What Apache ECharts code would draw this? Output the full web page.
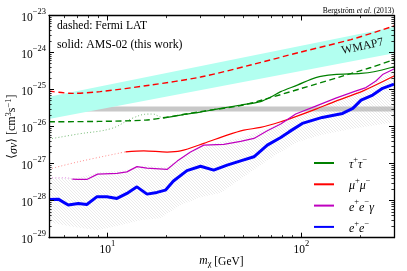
<!DOCTYPE html>
<html><head><meta charset="utf-8">
<script src="https://cdn.jsdelivr.net/npm/echarts@6/dist/echarts.min.js"></script>
<style>html,body{margin:0;padding:0;background:#fff}#c{width:407px;height:271px}</style>
</head><body><div id="c"></div>
<script>
const F = "'Liberation Serif','DejaVu Serif',serif";

// axis range (raw units) and tick positions
const xRange = [5, 300];
const yRange = [1e-29, 1e-23];
const xMajorTicks = [10, 100];
const xMinorTicks = [5, 6, 7, 8, 9, 20, 30, 40, 50, 60, 70, 80, 90, 200, 300];
const yMajorTicks = [1e-29, 1e-28, 1e-27, 1e-26, 1e-25, 1e-24, 1e-23];
const yMinorTicks = [];
for (let e = -29; e < -23; e++) for (let k = 2; k <= 9; k++) yMinorTicks.push(k * Math.pow(10, e));

// WMAP7 band and thermal relic band
const wmapUpper = [[5, 6.4e-26], [300, 4.9e-24]];
const wmapLower = [[5, 1.6e-26], [300, 9.5e-25]];
const relicUpper = [[5, 3.5e-26], [300, 3.5e-26]];
const relicLower = [[5, 2.56e-26], [300, 2.56e-26]];

// hatched region
const hatchUpper = [[5, 4.05e-28], [6.81, 4.05e-28], [9.17, 5.9e-28], [12.4, 6.67e-28], [15.66, 9.1e-28], [19.9, 8.0e-28],
  [26.8, 2.05e-27], [34, 3.37e-27], [48.6, 4.89e-27], [61.6, 7.55e-27], [78.2, 1.32e-26], [99.2, 2.18e-26],
  [141.8, 4.6e-26], [202.6, 9.7e-26], [272.8, 2.47e-25], [300, 3.37e-25]];
const hatchLower = [[5, 2.62e-29], [6.41, 2.05e-29], [8.85, 1.6e-29], [11.63, 2.18e-29], [14.76, 2.97e-29], [18.7, 3.37e-29],
  [23.76, 7.55e-29], [30.2, 1.24e-28], [38.25, 1.6e-28], [54.7, 5.9e-28], [73.6, 1.7e-27], [95.7, 3.81e-27],
  [125.9, 5.9e-27], [179.9, 8.55e-27], [300, 1.32e-26]];

// Fermi LAT (dashed)
const fermiMuMu = [[5, 9.1e-26], [6.57, 7.9e-26], [9.17, 8.8e-26], [16.6, 1.32e-25], [30.2, 2.18e-25], [54.7, 4.6e-25],
  [99.2, 1.03e-24], [179.9, 2.24e-24], [300, 5.2e-24]];
const fermiTauTau = [[5, 1.35e-26], [9, 1.38e-26], [15.7, 1.5e-26], [19.9, 1.77e-26], [30.2, 2.54e-26], [48.6, 3.7e-26],
  [63.9, 5.37e-26], [99.2, 1.06e-25], [159.7, 2.24e-25], [228, 3.94e-25], [300, 6.47e-25]];

// AMS-02 (solid, dotted at low mass)
const tauDotted = [[5, 4.6e-27], [7.06, 6.3e-27], [10.5, 8.9e-27], [13.4, 1.67e-26], [16.2, 2.18e-26], [17.2, 2.18e-26], [18.3, 1.92e-26], [19.4, 1.7e-26]];
const tauSolid = [[19.4, 1.7e-26], [23.8, 2.05e-26], [30.2, 2.47e-26], [38.3, 3.1e-26], [48.6, 3.81e-26], [61.6, 4.74e-26],
  [69.4, 6.27e-26], [78.2, 8.8e-26], [95.3, 1.32e-25], [118.6, 2.11e-25], [146.9, 2.54e-25], [202.6, 2.74e-25],
  [236.5, 3.03e-25], [300, 4.13e-25]];
const muDotted = [[5, 7.1e-28], [7.08, 1.12e-27], [12.4, 2.08e-27]];
const muSolid = [[12.4, 2.08e-27], [15.4, 2.22e-27], [20.3, 2.05e-27], [23.8, 2.2e-27], [31.4, 3.52e-27], [41.4, 5.89e-27],
  [50.5, 8.04e-27], [61.6, 9.5e-27], [78.2, 1.35e-26], [93.4, 1.86e-26], [118.6, 2.97e-26], [150.4, 4.89e-26],
  [206.7, 9.1e-26], [300, 2.32e-25]];
const eegDotted = [[5, 4.13e-28], [6.17, 4.13e-28], [6.6, 3.8e-28]];
const eegSolid = [[6.6, 3.8e-28], [7.0, 3.74e-28], [7.83, 3.74e-28], [8.9, 5.2e-28], [11.2, 5.43e-28], [12.6, 6.0e-28],
  [14.2, 8.3e-28], [16.0, 7.55e-28], [20.3, 6.97e-28], [22.9, 1.17e-27], [26.8, 2.05e-27], [31.4, 3.16e-27],
  [39.8, 3.3e-27], [48.6, 3.98e-27], [56.9, 4.8e-27], [66.7, 7.7e-27], [78.2, 1.17e-26], [93.4, 2.18e-26],
  [118.6, 3.58e-26], [150.4, 5.89e-26], [189.8, 9.1e-26], [215, 1.13e-25], [242, 1.7e-25], [262, 2.54e-25], [300, 3.58e-25]];
const eeSolid = [[5.0, 1.08e-28], [5.58, 1.10e-28], [6.28, 7.6e-29], [7.08, 8.4e-29], [7.83, 7.9e-29], [8.81, 1.27e-28],
  [9.93, 1.27e-28], [11.2, 1.15e-28], [12.6, 1.57e-28], [14.2, 2.36e-28], [16.0, 1.50e-28], [18.0, 1.67e-28],
  [19.9, 1.92e-28], [21.9, 3.4e-28], [25.7, 6.5e-28], [30.2, 8.5e-28], [35.3, 6.7e-28], [41.4, 9.1e-28],
  [48.6, 1.19e-27], [56.9, 1.53e-27], [66.7, 3.16e-27], [78.2, 5.1e-27], [86.3, 7.2e-27], [101, 1.22e-26],
  [128, 1.77e-26], [163, 2.27e-26], [184, 3.1e-26], [203, 5.2e-26], [233, 7.1e-26], [262, 1.08e-25], [300, 1.41e-25]];

const legendNames = ['tau', 'mu', 'eegamma', 'ee'];
const legendLabels = {
  tau: '{i|τ}{s|+}{i|τ}{s|−}',
  mu: '{i|μ}{s|+}{i|μ}{s|−}',
  eegamma: '{i|e}{s|+}{i|e}{s|−}{i|γ}',
  ee: '{i|e}{s|+}{i|e}{s|−}'
};

const GREEN = '#008000', RED = '#ff0000', MAG = '#bf00bf', BLUE = '#0000ff';

// log-log mapping: axes are value axes in decades
const lg = v => Math.log10(v);
const LP = p => [lg(p[0]), lg(p[1])];

// hatch pattern
const hc = document.createElement('canvas');
hc.width = 3; hc.height = 3;
const hx = hc.getContext('2d');
hx.strokeStyle = 'rgba(175,175,175,0.42)';
hx.lineWidth = 0.6;
[[0, 0, 3, 3], [-3, 0, 0, 3], [0, -3, 3, 0]].forEach(l => { hx.beginPath(); hx.moveTo(l[0] - 1, l[1] - 1); hx.lineTo(l[2] + 1, l[3] + 1); hx.stroke(); });

function band(upper, lower, style, z) {
  const up = upper.map(LP), lo = lower.map(LP);
  return {
    type: 'custom', coordinateSystem: 'cartesian2d', xAxisIndex: 0, yAxisIndex: 0, z: z, silent: true, clip: true,
    data: up.concat(lo),
    renderItem(params, api) {
      if (params.dataIndex !== 0) return null;
      const pts = up.map(p => api.coord(p)).concat(lo.slice().reverse().map(p => api.coord(p)));
      return { type: 'polygon', shape: { points: pts }, style: style };
    }
  };
}
function line(name, data, color, width, type, opacity, smooth) {
  return {
    type: 'line', name: name, data: data.map(LP), xAxisIndex: 0, yAxisIndex: 0, symbol: 'none', showSymbol: false,
    smooth: smooth || false, silent: true, z: 3,
    lineStyle: { color: color, width: width, type: type || 'solid', opacity: opacity == null ? 1 : opacity },
    itemStyle: { color: color }
  };
}

const supRich = {
  b: { fontFamily: F, fontSize: 11.5, lineHeight: 16, verticalAlign: 'bottom', color: '#000' },
  s: { fontFamily: F, fontSize: 8.5, lineHeight: 9, verticalAlign: 'top', color: '#000' }
};
function powLabel(v) {
  const e = Math.round(v);
  return '{b|10}{s|' + (e < 0 ? '−' + (-e) : e) + '}';
}
function ax(range, pos, ticks, major, showLine) {
  return {
    type: 'value', min: lg(range[0]), max: lg(range[1]), position: pos, z: 10,
    axisLine: { show: showLine, onZero: false, lineStyle: { color: '#000', width: 1.3 } },
    axisTick: { show: true, inside: true, length: major ? 5 : 2.6, customValues: ticks.map(lg), lineStyle: { color: '#000', width: major ? 1 : 0.8 } },
    axisLabel: { show: false }, splitLine: { show: false }, minorTick: { show: false }
  };
}

const xAxes = [ax(xRange, 'bottom', xMajorTicks, true, true), ax(xRange, 'bottom', xMinorTicks, false, false),
  ax(xRange, 'top', xMajorTicks, true, true), ax(xRange, 'top', xMinorTicks, false, false)];
xAxes[0].axisLabel = { show: true, customValues: xMajorTicks.map(lg), formatter: powLabel, rich: supRich, margin: 2 };
xAxes[0].name = '{i|m}{sub|χ} [GeV]';
xAxes[0].nameLocation = 'middle';
xAxes[0].nameGap = 17;
xAxes[0].nameMoveOverlap = false;
xAxes[0].nameTextStyle = {
  fontFamily: F, fontSize: 11.5, color: '#000',
  rich: {
    i: { fontFamily: F, fontSize: 11.5, fontStyle: 'italic', lineHeight: 14, verticalAlign: 'top' },
    sub: { fontFamily: F, fontSize: 8.5, lineHeight: 14, verticalAlign: 'bottom' }
  }
};
const yAxes = [ax(yRange, 'left', yMajorTicks, true, true), ax(yRange, 'left', yMinorTicks, false, false),
  ax(yRange, 'right', yMajorTicks, true, true), ax(yRange, 'right', yMinorTicks, false, false)];
yAxes[0].axisLabel = { show: true, customValues: yMajorTicks.map(lg), formatter: powLabel, rich: supRich, margin: 3 };
yAxes[0].name = '⟨{i|σv}⟩ [cm{s|3}s{s|−1}]';
yAxes[0].nameLocation = 'middle';
yAxes[0].nameRotate = 90;
yAxes[0].nameGap = 29;
yAxes[0].nameMoveOverlap = false;
yAxes[0].nameTextStyle = {
  fontFamily: F, fontSize: 12, color: '#000', lineHeight: 16, verticalAlign: 'bottom',
  rich: {
    i: { fontFamily: F, fontSize: 12, fontStyle: 'italic', lineHeight: 16, verticalAlign: 'bottom' },
    s: { fontFamily: F, fontSize: 8.5, lineHeight: 9, verticalAlign: 'top' }
  }
};

const option = {
  animation: false,
  backgroundColor: '#fff',
  grid: { left: 49, right: 13, top: 15.5, bottom: 33.3, containLabel: false, outerBoundsMode: 'none' },
  xAxis: xAxes,
  yAxis: yAxes,
  legend: {
    data: legendNames, orient: 'vertical', left: 313, top: 155, padding: 0,
    itemWidth: 20, itemHeight: 14, itemGap: 5.3, selectedMode: false,
    itemStyle: { color: 'rgba(0,0,0,0)', borderColor: 'rgba(0,0,0,0)', borderWidth: 0, opacity: 0 },
    formatter: n => legendLabels[n],
    textStyle: {
      color: '#000', padding: [0, 0, 0, 10],
      rich: {
        i: { fontFamily: F, fontSize: 12, fontStyle: 'italic', lineHeight: 16, verticalAlign: 'bottom', color: '#000' },
        s: { fontFamily: F, fontSize: 8.5, lineHeight: 9, verticalAlign: 'top', color: '#000' }
      }
    }
  },
  graphic: [
    { type: 'text', x: 57, y: 26.3, z: 20, style: { text: 'dashed: Fermi LAT', fontFamily: F, fontSize: 11.6, fill: '#000', textAlign: 'left', textVerticalAlign: 'middle', align: 'left', verticalAlign: 'middle' } },
    { type: 'text', x: 57, y: 44.8, z: 20, style: { text: 'solid: AMS-02 (this work)', fontFamily: F, fontSize: 11.8, fill: '#000', textAlign: 'left', textVerticalAlign: 'middle', align: 'left', verticalAlign: 'middle' } },
    { type: 'text', x: 394, y: 11, z: 20, style: { text: 'Bergström {i|et al.} (2013)', fontFamily: F, fontSize: 7.6, fill: '#000', textAlign: 'right', textVerticalAlign: 'middle', align: 'right', verticalAlign: 'middle', rich: { i: { fontFamily: F, fontSize: 7.6, fontStyle: 'italic', fill: '#000' } } } },
    { type: 'text', x: 362.5, y: 46.5, rotation: 0.21, z: 20, style: { text: 'WMAP7', fontFamily: F, fontSize: 11.8, fill: '#111', textAlign: 'center', textVerticalAlign: 'middle', align: 'center', verticalAlign: 'middle' } }
  ],
  series: [
    band(relicUpper, relicLower, { fill: '#c8c8c8' }, 1),
    band(hatchUpper, hatchLower, { fill: { image: hc, repeat: 'repeat' } }, 1),
    band(wmapUpper, wmapLower, { fill: '#b2fff0' }, 1),
    line('FermiTau', fermiTauTau, GREEN, 1.4, [6, 3.5], 1, 0.3),
    line('FermiMu', fermiMuMu, RED, 1.4, [6, 3.5], 1, 0.3),
    line('tauDot', tauDotted, GREEN, 1, [1, 2.2], 0.55, 0.4),
    line('muDot', muDotted, RED, 1, [1, 2.2], 0.45, 0.4),
    line('eegDot', eegDotted, MAG, 1, [1, 2.2], 0.5, 0.4),
    line('tau', tauSolid, GREEN, 1.2, 'solid', 1, 0.3),
    line('mu', muSolid, RED, 1.2, 'solid', 1, 0.3),
    line('eegamma', eegSolid, MAG, 1.2, 'solid', 1, false),
    line('ee', eeSolid, BLUE, 3, 'solid', 1, false)
  ]
};
const chart = echarts.init(document.getElementById('c'), null, { renderer: 'canvas' });
chart.setOption(option);
</script></body></html>
